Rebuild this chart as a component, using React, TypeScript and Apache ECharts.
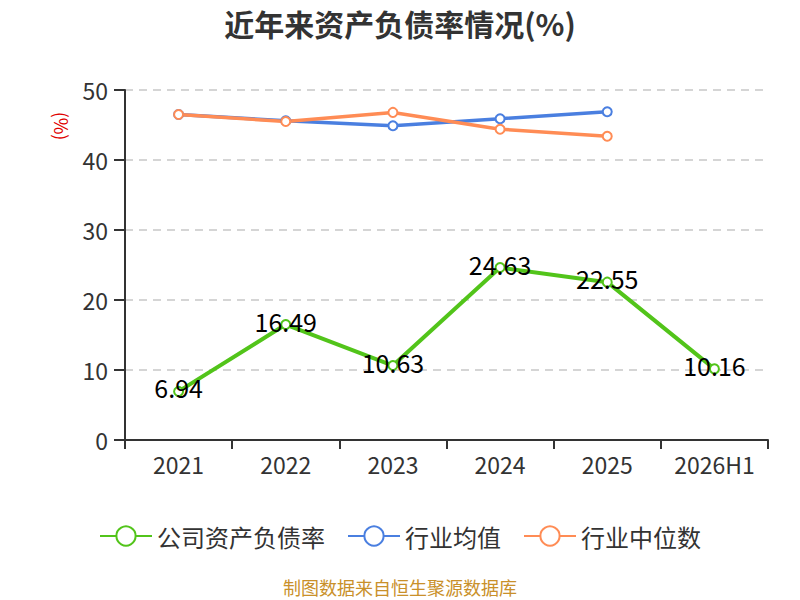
import { useEffect, useRef } from "react";
import * as echarts from "echarts";

const years = ["2021", "2022", "2023", "2024", "2025", "2026H1"];
const companyRatio = [6.94, 16.49, 10.63, 24.63, 22.55, 10.16];
const industryAvg = [46.5, 45.6, 44.9, 45.9, 46.9, null];
const industryMedian = [46.5, 45.5, 46.8, 44.4, 43.4, null];
const yTicks = { min: 0, max: 50, interval: 10 };

const FONT = "'Noto Sans CJK SC', 'Noto Sans', sans-serif";

const App = () => {
  const chartRef = useRef<HTMLDivElement>(null);

  useEffect(() => {
    if (!chartRef.current) return;
    document.body.style.margin = "0";
    const chart = echarts.init(chartRef.current, null, { renderer: "svg" });

    const option: echarts.EChartsOption = {
      animation: false,
      textStyle: { fontFamily: FONT },
      title: {
        text: "近年来资产负债率情况(%)",
        left: "center",
        top: 3,
        textStyle: { fontSize: 30, fontWeight: "bold", color: "#333", fontFamily: FONT },
      },
      grid: { left: 125, right: 32, top: 90, bottom: 160 },
      legend: {
        top: 519,
        left: "center",
        itemWidth: 52,
        itemHeight: 24,
        itemGap: 22,
        textStyle: { fontSize: 24, color: "#333", fontFamily: FONT },
        data: ["公司资产负债率", "行业均值", "行业中位数"],
      },
      graphic: [
        {
          type: "text",
          x: 62,
          y: 126,
          rotation: -Math.PI / 2,
          style: {
            text: "(%)",
            fill: "#e00000",
            fontSize: 18,
            fontFamily: FONT,
            align: "center",
            verticalAlign: "middle",
          },
        },
        {
          type: "text",
          left: "center",
          top: 578,
          style: {
            text: "制图数据来自恒生聚源数据库",
            fill: "#c9902a",
            fontSize: 18,
            fontFamily: FONT,
          },
        },
      ],
      xAxis: {
        type: "category",
        data: years,
        boundaryGap: true,
        axisLine: { lineStyle: { color: "#333", width: 2 } },
        axisTick: { show: true, length: 9, lineStyle: { color: "#333", width: 2 } },
        axisLabel: { fontSize: 23, color: "#333", margin: 12, fontFamily: FONT },
      },
      yAxis: {
        type: "value",
        min: yTicks.min,
        max: yTicks.max,
        interval: yTicks.interval,
        axisLine: { show: true, lineStyle: { color: "#333", width: 2 } },
        axisTick: { show: true, length: 11, lineStyle: { color: "#333", width: 2 } },
        axisLabel: { fontSize: 23, color: "#333", margin: 17, fontFamily: FONT },
        splitLine: { lineStyle: { color: "#c8c8c8", type: [8, 6], width: 1.5 } },
      },
      series: [
        {
          name: "公司资产负债率",
          type: "line",
          data: companyRatio,
          symbol: "emptyCircle",
          symbolSize: 9,
          lineStyle: { width: 4, color: "#52c41a" },
          itemStyle: { color: "#52c41a", borderWidth: 2 },
          label: {
            show: true,
            position: "inside",
            offset: [0, -4],
            fontSize: 25,
            color: "#000",
            fontFamily: FONT,
          },
          z: 3,
        },
        {
          name: "行业均值",
          type: "line",
          data: industryAvg,
          symbol: "emptyCircle",
          symbolSize: 9,
          lineStyle: { width: 3.5, color: "#4a7fe0" },
          itemStyle: { color: "#4a7fe0", borderWidth: 2 },
          z: 2,
        },
        {
          name: "行业中位数",
          type: "line",
          data: industryMedian,
          symbol: "emptyCircle",
          symbolSize: 9,
          lineStyle: { width: 3.5, color: "#ff8c55" },
          itemStyle: { color: "#ff8c55", borderWidth: 2 },
          z: 2,
        },
      ],
    };

    chart.setOption(option);
    return () => chart.dispose();
  }, []);

  return <div ref={chartRef} style={{ width: 800, height: 600 }} />;
};

export default App;
